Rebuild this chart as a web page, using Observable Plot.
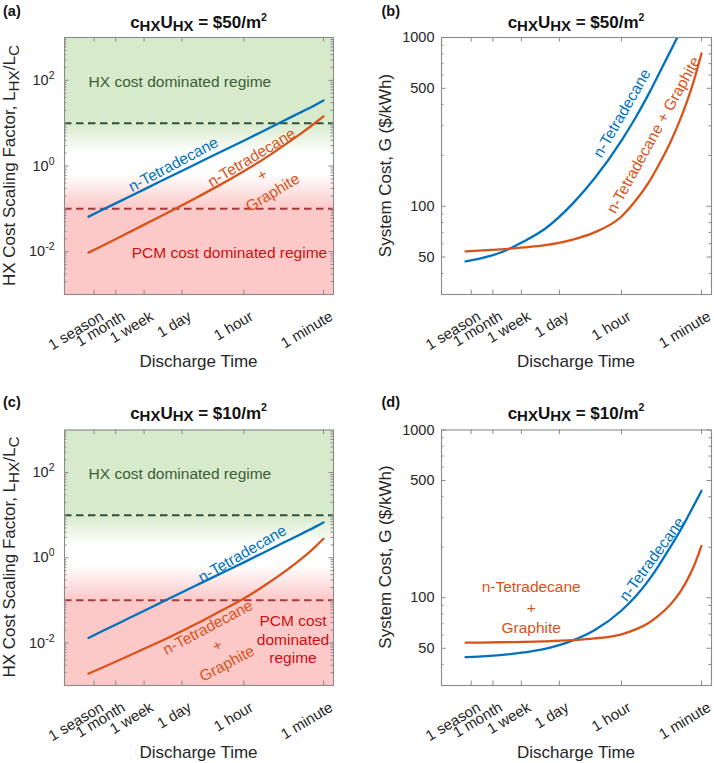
<!DOCTYPE html>
<html><head><meta charset="utf-8">
<script src="https://cdn.jsdelivr.net/npm/d3@7"></script>
<script src="https://cdn.jsdelivr.net/npm/@observablehq/plot@0.6"></script>
<style>
body{margin:0;background:#fff;}
#wrap{position:relative;width:714px;height:763px;overflow:hidden;font-family:"Liberation Sans",Arial,Helvetica,sans-serif;}
#wrap > svg{position:absolute;}
#overlay text{white-space:pre;}
</style></head><body><div id="wrap"></div>
<script>
// ---------- data ----------
const tHours = [2920,1500,500,150,50,12,4,1,0.5,0.25,0.15,0.08,0.05,0.035,0.025,0.0167];
const tickHours = [2190,720,168,24,1,1/60];
const tickLabels = ["1 season","1 month","1 week","1 day","1 hour","1 minute"];
const seriesNames = ["n-Tetradecane","n-Tetradecane + Graphite"];

// c_HX U_HX = $50/m2
const lhxPure50     = [0.0655,0.0925,0.162,0.30,0.53,1.10,1.93,3.9,5.6,8.0,10.5,14.6,18.6,22.4,26.9,33.9];
const lhxGraphite50 = [0.0095,0.0134,0.0238,0.0452,0.0813,0.177,0.330,0.757,1.17,1.87,2.68,4.27,6.03,7.93,10.35,14.4];
const costPure50     = [47.2,48.8,53,61.8,73.6,104,146,245,331,462,603,841,1080,null,null,null];
const costGraphite50 = [54.0,54.6,55.5,57.0,58.8,63.5,70,87,107,138,175,243,325,418,548,805];
// c_HX U_HX = $10/m2
const lhxPure10     = [0.0131,0.0185,0.0324,0.060,0.106,0.22,0.386,0.78,1.12,1.6,2.1,2.92,3.72,4.48,5.38,6.78];
const lhxGraphite10 = [0.0019,0.00257,0.0043,0.00767,0.0130,0.0273,0.0506,0.110,0.172,0.280,0.407,0.664,0.977,1.34,1.85,2.80];
const costPure10     = [44.3,44.6,45.5,47.2,49.6,55.7,64,84,101,127,155,203,250,298,353,434];
const costGraphite10 = [54.0,54.1,54.3,54.6,55.0,55.9,57.2,60.6,64.6,70.8,78.2,91.8,108,127,153,204];

const hxThreshold = 10, pcmThreshold = 0.1;
const hxRegime = [10, 1000], transitionBand = [0.1, 10], pcmRegime = [1e-3, 0.1];
const lhxTicks = [1e-2, 1, 1e2];
const costTicks = [50, 100, 500, 1000];

// ---------- style ----------
const FONT = "'Liberation Sans', Arial, Helvetica, sans-serif";
const BLUE = "#0072BD", ORANGE = "#D95319";
const GREEN_BG = "#d7eacb", PINK_BG = "#fcc8c8";
const GREEN_DASH = "#2f5240", RED_DASH = "#a93a3a";
const GREEN_TXT = "#3b5e35", RED_TXT = "#cc1111";
const AXIS = "#8a8a8a", INK = "#262626";
const xDomain = [1e4, 1e-2];
const labelOf = new Map(tickHours.map((h, i) => [h, tickLabels[i]]));

function minorLog(lo, hi, majors) {
  const out = [];
  for (let k = Math.floor(Math.log10(lo)); k <= Math.ceil(Math.log10(hi)); k++)
    for (let m = 1; m <= 9; m++) {
      const v = +(m * Math.pow(10, k)).toPrecision(6);
      if (v > lo && v < hi && !majors.some(t => Math.abs(t - v) / v < 1e-6)) out.push(v);
    }
  return out;
}

function rows(values, name) {
  return tHours.map((t, i) => ({t, v: values[i], s: name})).filter(d => d.v != null);
}

function buildPanel(cfg) {
  const fw = cfg.width - cfg.mL - cfg.mR, fh = cfg.height - cfg.mT - cfg.mB;
  const marks = [];
  const PLACE = "#fe01fe";
  if (cfg.regimes) {
    const X = {x1: () => xDomain[0], x2: () => xDomain[1]};
    marks.push(Plot.rect([hxRegime], {...X, y1: d => d[0], y2: d => d[1], fill: GREEN_BG}));
    marks.push(Plot.rect([transitionBand], {...X, y1: d => d[0], y2: d => d[1], fill: PLACE}));
    marks.push(Plot.rect([pcmRegime], {...X, y1: d => d[0], y2: d => d[1], fill: PINK_BG}));
    marks.push(Plot.ruleY([hxThreshold], {stroke: GREEN_DASH, strokeWidth: 2, strokeDasharray: "7.5,4.5"}));
    marks.push(Plot.ruleY([pcmThreshold], {stroke: RED_DASH, strokeWidth: 2, strokeDasharray: "7.5,4.5"}));
  }
  marks.push(Plot.line(rows(cfg.pure, seriesNames[0]), {x: "t", y: "v", stroke: BLUE, strokeWidth: 2.3, curve: "monotone-x", clip: true}));
  marks.push(Plot.line(rows(cfg.graphite, seriesNames[1]), {x: "t", y: "v", stroke: ORANGE, strokeWidth: 2.3, curve: "monotone-x", clip: true}));
  for (const a of cfg.notes) {
    marks.push(Plot.text([a], {x: "x", y: "y", text: "text", fill: a.fill, fontSize: 15.5,
      rotate: a.rotate || 0, textAnchor: a.anchor || "middle", lineAnchor: "middle", lineHeight: a.lh || 1.3}));
  }
  // frame + inward ticks
  const minor = minorLog(cfg.yDomain[0], cfg.yDomain[1], cfg.yTicks);
  marks.push(Plot.tickY(cfg.yTicks, {y: d => d, insetRight: fw - 4.5, stroke: AXIS}));
  marks.push(Plot.tickY(cfg.yTicks, {y: d => d, insetLeft: fw - 4.5, stroke: AXIS}));
  marks.push(Plot.tickY(minor, {y: d => d, insetRight: fw - 2.5, stroke: AXIS}));
  marks.push(Plot.tickY(minor, {y: d => d, insetLeft: fw - 2.5, stroke: AXIS}));
  marks.push(Plot.tickX(tickHours, {x: d => d, insetTop: fh - 4.5, stroke: AXIS}));
  marks.push(Plot.tickX(tickHours, {x: d => d, insetBottom: fh - 4.5, stroke: AXIS}));
  marks.push(Plot.frame({stroke: AXIS, strokeWidth: 1.1}));
  // tick labels
  marks.push(Plot.text(tickHours, {x: d => d, frameAnchor: "bottom", text: d => labelOf.get(d),
    rotate: -31, textAnchor: "end", lineAnchor: "middle", dx: 8, dy: 20.5, fontSize: 15, fill: INK}));
  marks.push(Plot.text(cfg.yTicks, {y: d => d, frameAnchor: "left", text: cfg.yFormat,
    textAnchor: "end", lineAnchor: "middle", dx: -cfg.yPad, fontSize: 14.5, fill: INK}));

  const svg = Plot.plot({
    width: cfg.width, height: cfg.height,
    marginLeft: cfg.mL, marginRight: cfg.mR, marginTop: cfg.mT, marginBottom: cfg.mB,
    x: {type: "log", domain: xDomain, axis: null},
    y: {type: "log", domain: cfg.yDomain, axis: null},
    style: {fontFamily: FONT, fontSize: "14px", color: INK, background: "transparent", overflow: "visible"},
    marks
  });
  svg.style.left = cfg.left + "px";
  svg.style.top = cfg.top + "px";
  const s = d3.select(svg);
  if (cfg.regimes) {
    const lg = s.insert("defs", ":first-child").append("linearGradient")
      .attr("id", cfg.gradId).attr("x1", 0).attr("y1", 0).attr("x2", 0).attr("y2", 1);
    [[0, GREEN_BG], [0.36, "#ffffff"], [0.6, "#ffffff"], [1, PINK_BG]]
      .forEach(([o, c]) => lg.append("stop").attr("offset", o).attr("stop-color", c));
    s.selectAll(`[fill="${PLACE}"]`).attr("fill", `url(#${cfg.gradId})`);
  }
  // superscript exponents on "10^k" tick labels
  s.selectAll("text").each(function () {
    const m = /^10\^(-?\d+)$/.exec(this.textContent);
    if (!m) return;
    this.textContent = "10";
    const ts = document.createElementNS("http://www.w3.org/2000/svg", "tspan");
    ts.setAttribute("dy", "-6");
    ts.setAttribute("font-size", "10.5");
    ts.textContent = m[1];
    this.appendChild(ts);
  });
  document.getElementById("wrap").appendChild(svg);
}

const lhxFormat = d => "10^" + Math.round(Math.log10(d));
const costFormat = d => String(d);

buildPanel({left: 0, top: 0, width: 357, height: 380, mL: 64, mR: 24, mT: 37, mB: 86,
  yDomain: [1e-3, 1e3], yTicks: lhxTicks, yFormat: lhxFormat, yPad: 10, regimes: true, gradId: "gradA",
  pure: lhxPure50, graphite: lhxGraphite50,
  notes: [
    {text: "HX cost dominated regime", x: 2900, y: 100, anchor: "start", fill: GREEN_TXT},
    {text: "PCM cost dominated regime", x: 0.0138, y: 0.0098, anchor: "end", fill: RED_TXT},
    {text: "n-Tetradecane", x: 38.8, y: 1.16, rotate: -28, fill: BLUE},
    {text: "n-Tetradecane\n+\nGraphite", x: 0.405, y: 0.658, rotate: -31, fill: ORANGE, lh: 1.32}
  ]});

buildPanel({left: 357, top: 0, width: 357, height: 380, mL: 84, mR: 3, mT: 37, mB: 86,
  yDomain: [30, 1000], yTicks: costTicks, yFormat: costFormat, yPad: 7,
  pure: costPure50, graphite: costGraphite50,
  notes: [
    {text: "n-Tetradecane", x: 1.04, y: 359, rotate: -60, fill: BLUE},
    {text: "n-Tetradecane + Graphite", x: 0.206, y: 267, rotate: -61, fill: ORANGE}
  ]});

buildPanel({left: 0, top: 392, width: 357, height: 371, mL: 64, mR: 24, mT: 37.5, mB: 78,
  yDomain: [1e-3, 1e3], yTicks: lhxTicks, yFormat: lhxFormat, yPad: 10, regimes: true, gradId: "gradC",
  pure: lhxPure10, graphite: lhxGraphite10,
  notes: [
    {text: "HX cost dominated regime", x: 2900, y: 100, anchor: "start", fill: GREEN_TXT},
    {text: "PCM cost\ndominated\nregime", x: 0.080, y: 0.0124, fill: RED_TXT, lh: 1.19},
    {text: "n-Tetradecane", x: 1.12, y: 1.32, rotate: -30, fill: BLUE},
    {text: "n-Tetradecane\n+\nGraphite", x: 4.04, y: 0.0093, rotate: -28, fill: ORANGE, lh: 1.32}
  ]});

buildPanel({left: 357, top: 392, width: 357, height: 371, mL: 84, mR: 3, mT: 37.5, mB: 78,
  yDomain: [30, 1000], yTicks: costTicks, yFormat: costFormat, yPad: 7,
  pure: costPure10, graphite: costGraphite10,
  notes: [
    {text: "n-Tetradecane", x: 0.224, y: 172, rotate: -54, fill: BLUE},
    {text: "n-Tetradecane\n+\nGraphite", x: 101.6, y: 89.3, fill: ORANGE, lh: 1.32}
  ]});

// ---------- overlay text: panel letters, titles, axis labels ----------
const ov = d3.select("#wrap").append("svg").attr("id", "overlay")
  .attr("width", 714).attr("height", 763).style("left", "0px").style("top", "0px")
  .style("pointer-events", "none").style("font-family", FONT);

function rich(segs, {x, y, size, weight = "normal", anchor = "middle", rotate = 0, fill = INK, subShift = 0.2, subScale = 0.88, supShift = -0.43, supScale = 0.62}) {
  const t = ov.append("text").attr("x", x).attr("y", y).attr("font-size", size)
    .attr("font-weight", weight).attr("text-anchor", anchor).attr("fill", fill);
  if (rotate) t.attr("transform", `rotate(${rotate},${x},${y})`);
  let cur = 0;
  for (const sg of segs) {
    const shift = sg.sub ? size * subShift : sg.sup ? size * supShift : 0;
    const ts = t.append("tspan").text(sg.t).attr("dy", shift - cur);
    if (sg.sub) ts.attr("font-size", size * subScale);
    if (sg.sup) ts.attr("font-size", size * supScale);
    cur = shift;
  }
}

const panelLetters = ["(a)", "(b)", "(c)", "(d)"];
const letterPos = [[3, 15.5], [381.5, 15.5], [3, 407], [381.5, 407]];
panelLetters.forEach((l, i) => rich([{t: l}], {x: letterPos[i][0], y: letterPos[i][1], size: 14.5, weight: "bold", anchor: "start", fill: "#111"}));

const costLevels = ["$50/m", "$10/m"];
const titleRows = [[28, 0], [418.5, 1]];
for (const [ty, k] of titleRows) {
  for (const cx of [198.5, 576]) {
    rich([{t: "c"}, {t: "HX", sub: 1}, {t: "U"}, {t: "HX", sub: 1}, {t: " = " + costLevels[k]}, {t: "2", sup: 1}],
      {x: cx, y: ty, size: 17, weight: "bold", fill: "#111", subShift: 0.17});
  }
}

for (const [xy, cx] of [[367, 198.5], [367, 576], [758, 198.5], [758, 576]]) {
  rich([{t: "Discharge Time"}], {x: cx, y: xy, size: 17});
}

for (const cy of [165.5, 557]) {
  rich([{t: "HX Cost Scaling Factor, L"}, {t: "HX", sub: 1}, {t: "/L"}, {t: "C", sub: 1}],
    {x: 14.5, y: cy, size: 17, rotate: -90, subShift: 0.27, subScale: 0.9});
  rich([{t: "System Cost, G ($/kWh)"}], {x: 391, y: cy, size: 17, rotate: -90});
}
</script></body></html>
